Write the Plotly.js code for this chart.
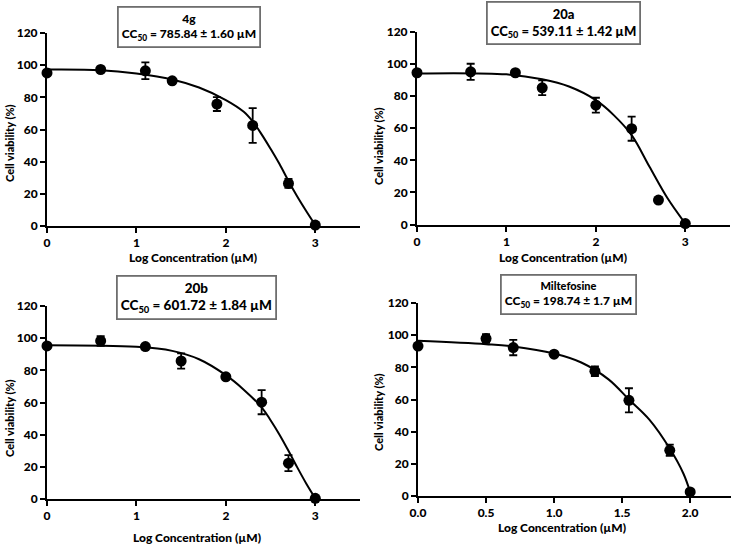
<!DOCTYPE html>
<html>
<head>
<meta charset="utf-8">
<script src="https://cdn.plot.ly/plotly-3.0.1.min.js"></script>
<style>html,body{margin:0;padding:0;background:#fff;}#chart{width:736px;height:545px;}</style>
</head>
<body>
<div id="chart"></div>
<script>
// ---- data: 4g ----
const x_4g = [0, 0.6, 1.1, 1.4, 1.9, 2.3, 2.7, 3.0];
const y_4g = [95.2, 97.3, 96.5, 90.3, 75.8, 62.5, 26.5, 0.6];
const err_4g = [0, 0, 5.2, 0, 4.3, 10.8, 2.8, 0];
const fit_4g_x = [0, 0.6, 1.0, 1.4, 1.7, 2.0, 2.2, 2.3, 2.4, 2.5, 2.6, 2.7, 2.8, 2.9, 3.0];
const fit_4g_y = [97.3, 96.9, 94.8, 91.1, 86.1, 78.3, 71, 65, 57, 48, 38.5, 28, 18.2, 9.2, 0.6];

// ---- data: 20a ----
const x_20a = [0, 0.6, 1.1, 1.4, 2.0, 2.4, 2.7, 3.0];
const y_20a = [94.6, 95.2, 94.6, 85.2, 74.4, 59.7, 15.2, 0.6];
const err_20a = [0, 5.0, 0, 4.6, 4.6, 7.5, 0, 0];
const fit_20a_x = [0, 1.0, 1.4, 1.7, 2.0, 2.2, 2.4, 2.6, 2.8, 3.0];
const fit_20a_y = [94.2, 93.6, 90.5, 86, 77.5, 68.2, 55.7, 36, 16.5, 0.6];

// ---- data: 20b ----
const x_20b = [0, 0.6, 1.1, 1.5, 2.0, 2.4, 2.7, 3.0];
const y_20b = [95.2, 98.3, 94.8, 85.8, 76.0, 60.2, 22.3, 0.4];
const err_20b = [0, 3.0, 0, 4.7, 0, 7.5, 5.0, 0];
const fit_20b_x = [0, 1.0, 1.4, 1.7, 2.0, 2.2, 2.4, 2.5, 2.6, 2.7, 2.8, 2.9, 3.0];
const fit_20b_y = [95.6, 94.6, 92.1, 86.9, 77, 68, 57, 49, 40, 30, 19.5, 9.5, 0.4];

// ---- data: Miltefosine ----
const x_milt = [0, 0.5, 0.7, 1.0, 1.3, 1.55, 1.85, 2.0];
const y_milt = [93.2, 97.9, 92.3, 88.2, 77.6, 59.5, 28.4, 2.5];
const err_milt = [0, 2.7, 4.8, 0, 3.0, 7.5, 3.5, 0];
const fit_milt_x = [0, 0.5, 0.7, 1.0, 1.2, 1.4, 1.55, 1.7, 1.85, 1.95, 2.0];
const fit_milt_y = [96.5, 94.4, 93, 88.6, 83, 72.5, 60, 47.5, 29.5, 14, 2.5];

// ---- labels ----
const names = ['4g', '20a', '20b', 'Miltefosine'];
const cc50 = ['785.84 ± 1.60', '539.11 ± 1.42', '601.72 ± 1.84', '198.74 ± 1.7'];
const xTitle = 'Log Concentration (µM)';
const yTitle = 'Cell viability (%)';
const xTicks123 = [0, 1, 2, 3];
const xTicks4 = [0, 0.5, 1.0, 1.5, 2.0];
const xTickText4 = ['0.0', '0.5', '1.0', '1.5', '2.0'];
const yTicks = [0, 20, 40, 60, 80, 100, 120];

const W = 736, H = 545;
const px = v => v / W;
const py = v => 1 - v / H;
const FONT = 'Lato, "Open Sans", sans-serif';
const WT = 900;

const sets = [
  {x: x_4g, y: y_4g, e: err_4g, fx: fit_4g_x, fy: fit_4g_y},
  {x: x_20a, y: y_20a, e: err_20a, fx: fit_20a_x, fy: fit_20a_y},
  {x: x_20b, y: y_20b, e: err_20b, fx: fit_20b_x, fy: fit_20b_y},
  {x: x_milt, y: y_milt, e: err_milt, fx: fit_milt_x, fy: fit_milt_y}
];

const traces = [];
sets.forEach((s, i) => {
  const xa = i === 0 ? 'x' : 'x' + (i + 1);
  const ya = i === 0 ? 'y' : 'y' + (i + 1);
  traces.push({
    x: s.fx, y: s.fy, xaxis: xa, yaxis: ya, type: 'scatter', mode: 'lines',
    line: {color: '#000', width: 2, shape: 'spline', smoothing: 1},
    cliponaxis: false, hoverinfo: 'skip', showlegend: false
  });
  traces.push({
    x: s.x, y: s.y, xaxis: xa, yaxis: ya, type: 'scatter', mode: 'markers',
    marker: {color: '#000', size: 11, symbol: 'circle'},
    error_y: {type: 'data', array: s.e, visible: true, color: '#000', thickness: 1.8, width: 4},
    cliponaxis: false, showlegend: false
  });
});

const axBase = {
  showline: true, linecolor: '#000', linewidth: 2,
  ticks: 'outside', ticklen: 5, tickwidth: 2, tickcolor: '#000',
  showgrid: false, zeroline: false, fixedrange: true,
  tickfont: {family: FONT, size: 12, color: '#000', weight: WT}
};
const xAx = (dom, anchor, range, tv, tt) => Object.assign({}, axBase, {
  domain: dom, anchor: anchor, range: range, tickmode: 'array', tickvals: tv,
  ticktext: tt || tv.map(String)
});
const yAx = (dom, anchor) => Object.assign({}, axBase, {
  domain: dom, anchor: anchor, range: [0, 120], tickmode: 'array', tickvals: yTicks
});

const pan = [
  {x0: 47, x1: 360, y0: 33, y1: 226},
  {x0: 417, x1: 730, y0: 32, y1: 224.5},
  {x0: 47, x1: 360, y0: 306, y1: 499},
  {x0: 418, x1: 731, y0: 303, y1: 496}
];

const layout = {
  width: W, height: H,
  margin: {l: 0, r: 0, t: 0, b: 0},
  paper_bgcolor: '#fff', plot_bgcolor: '#fff',
  font: {family: FONT, color: '#000'},
  xaxis: xAx([px(pan[0].x0), px(pan[0].x1)], 'y', [0, 3.5], xTicks123),
  yaxis: yAx([py(pan[0].y1), py(pan[0].y0)], 'x'),
  xaxis2: xAx([px(pan[1].x0), px(pan[1].x1)], 'y2', [0, 3.5], xTicks123),
  yaxis2: yAx([py(pan[1].y1), py(pan[1].y0)], 'x2'),
  xaxis3: xAx([px(pan[2].x0), px(pan[2].x1)], 'y3', [0, 3.5], xTicks123),
  yaxis3: yAx([py(pan[2].y1), py(pan[2].y0)], 'x3'),
  xaxis4: xAx([px(pan[3].x0), px(pan[3].x1)], 'y4', [0, 2.3], xTicks4, xTickText4),
  yaxis4: yAx([py(pan[3].y1), py(pan[3].y0)], 'x4'),
  annotations: []
};

// axis titles
const xTitlePos = [[193, 257], [563, 257], [197, 537], [562, 527]];
const yTitlePos = [[9, 143], [378, 146], [9, 418], [378, 412]];
for (let i = 0; i < 4; i++) {
  layout.annotations.push({
    xref: 'paper', yref: 'paper', x: px(xTitlePos[i][0]), y: py(xTitlePos[i][1]),
    xanchor: 'center', yanchor: 'middle', showarrow: false, text: xTitle,
    font: {family: FONT, size: 12, color: '#000', weight: WT}
  });
  layout.annotations.push({
    xref: 'paper', yref: 'paper', x: px(yTitlePos[i][0]), y: py(yTitlePos[i][1]),
    xanchor: 'center', yanchor: 'middle', showarrow: false, text: yTitle, textangle: -90,
    font: {family: FONT, size: 11, color: '#000', weight: WT}
  });
}

// title boxes
const boxPos = [[189, 27], [563, 23], [196, 297], [568, 294]];
const boxSize = [12, 13, 13.5, 12];
for (let i = 0; i < 4; i++) {
  const nameSize = i === 3 ? 11 : boxSize[i];
  layout.annotations.push({
    xref: 'paper', yref: 'paper', x: px(boxPos[i][0]), y: py(boxPos[i][1]),
    xanchor: 'center', yanchor: 'middle', showarrow: false, align: 'center',
    text: '<span style="font-size:' + nameSize + 'px">' + names[i] + '</span><br>CC<sub>50</sub> = ' + cc50[i] + ' µM',
    font: {family: FONT, size: boxSize[i], color: '#000', weight: WT},
    bordercolor: '#6e6e6e', borderwidth: 1.8, borderpad: 3, bgcolor: '#fff'
  });
}

Plotly.newPlot('chart', traces, layout, {staticPlot: true, displayModeBar: false});
</script>
</body>
</html>
